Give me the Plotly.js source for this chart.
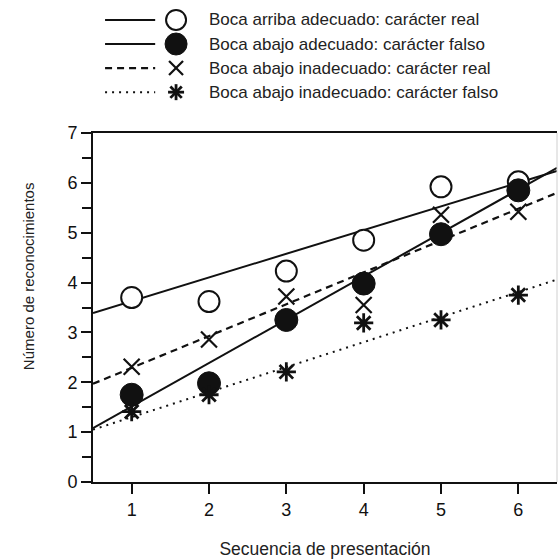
<!DOCTYPE html>
<html>
<head>
<meta charset="utf-8">
<script src="https://cdn.plot.ly/plotly-3.0.1.min.js"></script>
<style>html,body{margin:0;padding:0;background:#fff;}#chart{width:559px;height:560px;}</style>
</head>
<body>
<div id="chart"></div>
<script>
// ---- data ----
const secuencia = [1, 2, 3, 4, 5, 6];
const seriesNames = [
  "Boca arriba adecuado: carácter real",
  "Boca abajo adecuado: carácter falso",
  "Boca abajo inadecuado: carácter real",
  "Boca abajo inadecuado: carácter falso"
];
const arribaAdecReal  = [3.70, 3.62, 4.23, 4.85, 5.92, 6.02];
const abajoAdecFalso  = [1.75, 1.98, 3.25, 3.98, 4.97, 5.85];
const abajoInadReal   = [2.31, 2.86, 3.72, 3.55, 5.36, 5.42];
const abajoInadFalso  = [1.41, 1.75, 2.21, 3.19, 3.25, 3.75];
// fitted regression lines (endpoints at the axis limits)
const fitX = [0.5, 6.5];
const fitArribaAdecReal = [3.39, 6.24];
const fitAbajoAdecFalso = [1.08, 6.30];
const fitAbajoInadReal  = [1.97, 5.80];
const fitAbajoInadFalso = [1.05, 4.06];
const xTicks = [1, 2, 3, 4, 5, 6];
const yTicks = [0, 1, 2, 3, 4, 5, 6, 7];
const xTitle = "Secuencia de presentación";
const yTitle = "Número de reconocimientos";

// ---- styles ----
const INK = "#111";
const FONT = "Liberation Sans, Arial, sans-serif";
const X_RANGE = [0.5, 6.5], Y_RANGE = [0, 7];
const lineStyles = [
  {color: INK, width: 2, dash: "solid"},
  {color: INK, width: 2, dash: "solid"},
  {color: INK, width: 2.2, dash: "7px,5px"},
  {color: INK, width: 2, dash: "2px,5px"}
];
const markerStyles = [
  {symbol: "circle", size: 21, color: "#fff", line: {color: INK, width: 2}},
  {symbol: "circle", size: 23, color: INK, line: {color: INK, width: 1}},
  {symbol: "x-thin-open", size: 16, color: INK, line: {color: INK, width: 2.2}},
  {symbol: "asterisk-open", size: 16, color: INK, line: {color: INK, width: 2.8}}
];
const fits = [fitArribaAdecReal, fitAbajoAdecFalso, fitAbajoInadReal, fitAbajoInadFalso];
const pts = [arribaAdecReal, abajoAdecFalso, abajoInadReal, abajoInadFalso];

const traces = [];
fits.forEach((f, i) => traces.push({
  x: fitX, y: f, type: "scatter", mode: "lines", line: lineStyles[i],
  showlegend: false, hoverinfo: "skip"
}));
pts.forEach((p, i) => traces.push({
  x: secuencia, y: p, type: "scatter", mode: "markers", name: seriesNames[i],
  marker: markerStyles[i], showlegend: false, cliponaxis: false
}));

// ---- custom legend (line sample, marker glyph, text), positions in paper units ----
const legRows = [1.324, 1.255, 1.186, 1.117];
const legLineX = [0.026, 0.134];
const legMarkX = 0.179;
const legTextX = 0.245;
const shapes = [];
legRows.forEach((r, i) => shapes.push({
  type: "line", xref: "paper", yref: "paper",
  x0: legLineX[0], x1: legLineX[1], y0: r, y1: r,
  line: {color: INK, width: lineStyles[i].width, dash: lineStyles[i].dash}
}));
function pixShape(type, r, x0, y0, x1, y1, line, fill) {
  const s = {type: type, xref: "paper", yref: "paper", xsizemode: "pixel", ysizemode: "pixel",
    xanchor: legMarkX, yanchor: r, x0: x0, y0: y0, x1: x1, y1: y1, line: line};
  if (fill) s.fillcolor = fill;
  return s;
}
// open circle
shapes.push(pixShape("circle", legRows[0], -10, -10, 10, 10, {color: INK, width: 2}, "#fff"));
// filled circle
shapes.push(pixShape("circle", legRows[1], -11, -11, 11, 11, {color: INK, width: 1}, INK));
// x
shapes.push(pixShape("line", legRows[2], -7, -7, 7, 7, {color: INK, width: 2.2}));
shapes.push(pixShape("line", legRows[2], -7, 7, 7, -7, {color: INK, width: 2.2}));
// asterisk
const a = 8, d = 5.7;
shapes.push(pixShape("line", legRows[3], -a, 0, a, 0, {color: INK, width: 2.8}));
shapes.push(pixShape("line", legRows[3], 0, -a, 0, a, {color: INK, width: 2.8}));
shapes.push(pixShape("line", legRows[3], -d, -d, d, d, {color: INK, width: 2.8}));
shapes.push(pixShape("line", legRows[3], -d, d, d, -d, {color: INK, width: 2.8}));
// light right frame
shapes.push({type: "line", xref: "paper", yref: "paper", x0: 1, x1: 1, y0: 0, y1: 1,
  line: {color: "#cfcfcf", width: 1}});

const annotations = legRows.map((r, i) => ({
  xref: "paper", yref: "paper", x: legTextX, y: r, xanchor: "left", yanchor: "middle",
  text: seriesNames[i], showarrow: false, font: {family: FONT, size: 17, color: "#222"}
}));
annotations.push({
  xref: "paper", yref: "paper", x: -0.14, y: 0.59, xanchor: "center", yanchor: "middle",
  textangle: -90, text: yTitle, showarrow: false,
  font: {family: FONT, size: 15, color: "#222"}
});

const layout = {
  width: 559, height: 560,
  margin: {l: 93, r: 2, t: 133, b: 78},
  paper_bgcolor: "#fff", plot_bgcolor: "#fff",
  font: {family: FONT, color: INK},
  showlegend: false,
  xaxis: {
    range: X_RANGE, tickvals: xTicks, ticktext: xTicks.map(String),
    showgrid: false, zeroline: false,
    showline: true, linecolor: INK, linewidth: 2, mirror: true,
    ticks: "outside", ticklen: 10, tickwidth: 2, tickcolor: INK,
    tickfont: {family: FONT, size: 18, color: INK},
    title: {text: xTitle, font: {family: FONT, size: 17.5, color: "#222"}, standoff: 24}
  },
  yaxis: {
    range: Y_RANGE, tickvals: yTicks, ticktext: yTicks.map(String),
    showgrid: false, zeroline: false,
    showline: true, linecolor: INK, linewidth: 2,
    ticks: "outside", ticklen: 10, tickwidth: 2, tickcolor: INK,
    minor: {dtick: 0.5, tick0: 0, ticks: "outside", ticklen: 9, tickwidth: 2, tickcolor: INK},
    tickfont: {family: FONT, size: 18, color: INK}
  },
  shapes: shapes,
  annotations: annotations
};

Plotly.newPlot("chart", traces, layout, {displayModeBar: false, staticPlot: true});
</script>
</body>
</html>
